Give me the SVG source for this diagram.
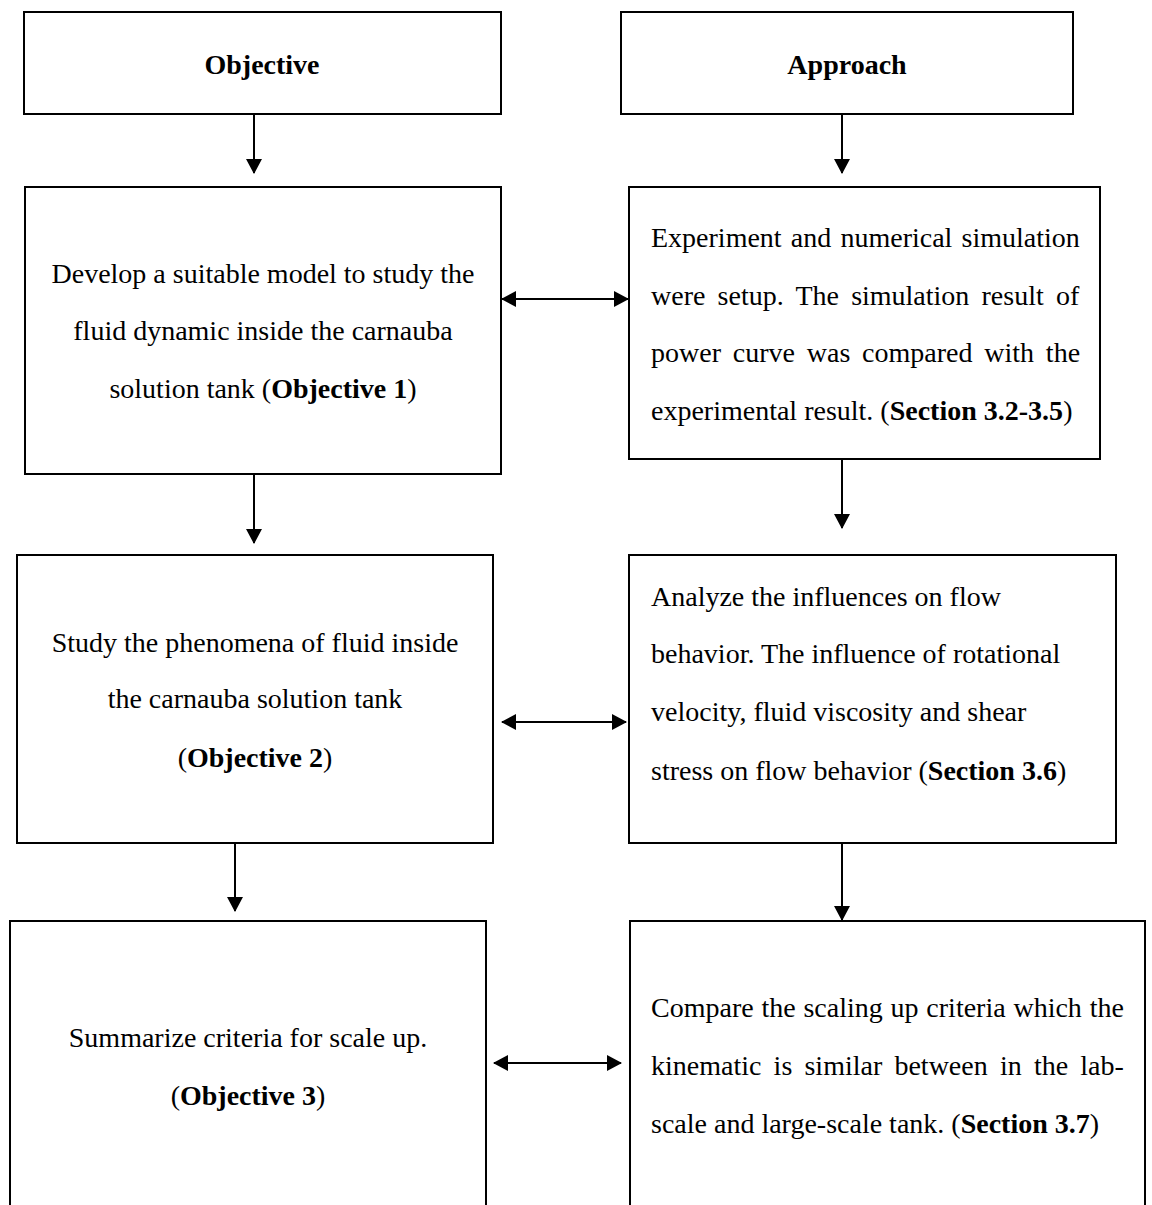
<svg xmlns="http://www.w3.org/2000/svg" width="1152" height="1205" viewBox="0 0 1152 1205">
<style>
.box{fill:#fff;stroke:#000;stroke-width:2}
.t{font-family:"Liberation Serif","Times New Roman",serif;font-size:28px;fill:#000}
.c{text-anchor:middle}
.b{font-weight:bold}
.ttl{font-family:"Liberation Serif","Times New Roman",serif;font-size:28px;font-weight:bold;fill:#000;text-anchor:middle}
.con{stroke:#000;stroke-width:2;fill:none}
</style>
<defs>
<marker id="ah" viewBox="0 0 15 16" refX="14" refY="8" markerWidth="15" markerHeight="16" markerUnits="userSpaceOnUse" orient="auto-start-reverse">
<path d="M0,0 L15,8 L0,16 Z" fill="#000"/>
</marker>
</defs>
<rect width="1152" height="1205" fill="#fff"/>
<g id="n-objective">
<rect class="box" x="24" y="12" width="477" height="102"/>
<text class="ttl" x="262" y="74">Objective</text>
</g>
<g id="n-approach">
<rect class="box" x="621" y="12" width="452" height="102"/>
<text class="ttl" x="847" y="74">Approach</text>
</g>
<g id="n-obj1">
<rect class="box" x="25" y="187" width="476" height="287"/>
<text class="t c" x="263" y="283">Develop a suitable model to study the</text>
<text class="t c" x="263" y="340">fluid dynamic inside the carnauba</text>
<text class="t c" x="263" y="398">solution tank (<tspan class="b">Objective 1</tspan>)</text>
</g>
<g id="n-app1">
<rect class="box" x="629" y="187" width="471" height="272"/>
<text class="t" x="651" y="247" word-spacing="2.2">Experiment and numerical simulation</text>
<text class="t" x="651" y="305" word-spacing="5.2">were setup. The simulation result of</text>
<text class="t" x="651" y="362" word-spacing="4.8">power curve was compared with the</text>
<text class="t" x="651" y="420">experimental result. (<tspan class="b">Section 3.2-3.5</tspan>)</text>
</g>
<g id="n-obj2">
<rect class="box" x="17" y="555" width="476" height="288"/>
<text class="t c" x="255" y="652">Study the phenomena of fluid inside</text>
<text class="t c" x="255" y="708">the carnauba solution tank</text>
<text class="t c" x="255" y="767">(<tspan class="b">Objective 2</tspan>)</text>
</g>
<g id="n-app2">
<rect class="box" x="629" y="555" width="487" height="288"/>
<text class="t" x="651" y="606">Analyze the influences on flow</text>
<text class="t" x="651" y="663">behavior. The influence of rotational</text>
<text class="t" x="651" y="721">velocity, fluid viscosity and shear</text>
<text class="t" x="651" y="780">stress on flow behavior (<tspan class="b">Section 3.6</tspan>)</text>
</g>
<g id="n-obj3">
<rect class="box" x="10" y="921" width="476" height="300"/>
<text class="t c" x="248" y="1047">Summarize criteria for scale up.</text>
<text class="t c" x="248" y="1105">(<tspan class="b">Objective 3</tspan>)</text>
</g>
<g id="n-app3">
<rect class="box" x="630" y="921" width="515" height="300"/>
<text class="t" x="651" y="1017" word-spacing="0.8">Compare the scaling up criteria which the</text>
<text class="t" x="651" y="1075" word-spacing="5.2">kinematic is similar between in the lab-</text>
<text class="t" x="651" y="1133">scale and large-scale tank. (<tspan class="b">Section 3.7</tspan>)</text>
</g>
<g id="connectors">
<line class="con" x1="254" y1="114" x2="254" y2="173" marker-end="url(#ah)"/>
<line class="con" x1="842" y1="114" x2="842" y2="173" marker-end="url(#ah)"/>
<line class="con" x1="254" y1="474" x2="254" y2="543" marker-end="url(#ah)"/>
<line class="con" x1="842" y1="459" x2="842" y2="528" marker-end="url(#ah)"/>
<line class="con" x1="235" y1="843" x2="235" y2="911" marker-end="url(#ah)"/>
<line class="con" x1="842" y1="843" x2="842" y2="920" marker-end="url(#ah)"/>
<line class="con" x1="502" y1="299" x2="628" y2="299" marker-start="url(#ah)" marker-end="url(#ah)"/>
<line class="con" x1="502" y1="722" x2="626" y2="722" marker-start="url(#ah)" marker-end="url(#ah)"/>
<line class="con" x1="494" y1="1063" x2="621" y2="1063" marker-start="url(#ah)" marker-end="url(#ah)"/>
</g>
</svg>
